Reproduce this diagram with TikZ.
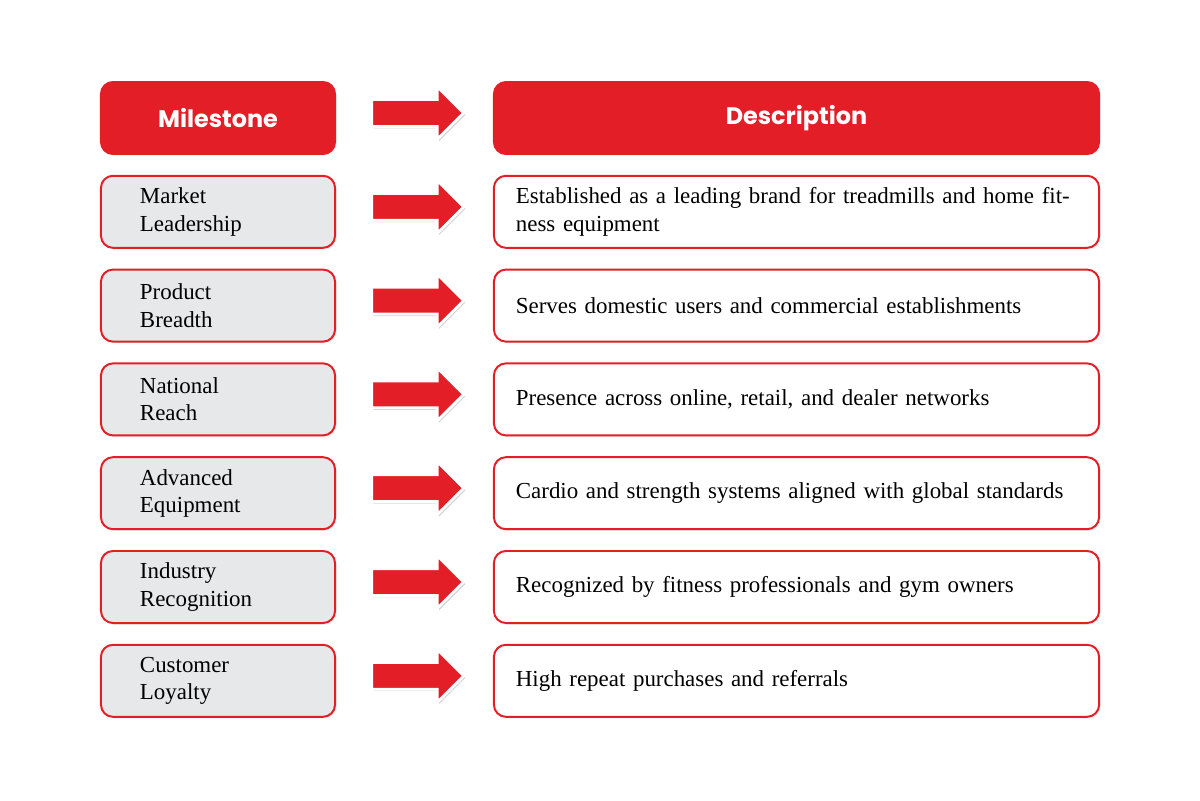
\documentclass[tikz,border=0pt]{standalone}
\usepackage{fontspec}
\setmainfont{Liberation Serif}
\newfontfamily\headfont{Poppins}
\usetikzlibrary{positioning,shapes.arrows,shadows}
\definecolor{brandred}{RGB}{228,30,38}
\definecolor{boxgrey}{RGB}{231,232,233}

\begin{document}
\begin{tikzpicture}[x=0.025cm,y=-0.025cm,node distance=0.15cm]
\tikzstyle{box} = [draw=brandred,line width=1.4pt,rounded corners=0.3cm,minimum height=1.8cm,
  align=left,font=\fontsize{16.3}{19.5}\selectfont,drop shadow={opacity=0.15,shadow xshift=0.04cm,shadow yshift=-0.04cm}]
\tikzstyle{mile} = [box,fill=boxgrey,text width=3.9cm,inner xsep=0.975cm]
\tikzstyle{desc} = [box,fill=white,text width=14.025cm,inner xsep=0.55cm]
\tikzstyle{head} = [box,fill=brandred,text=white,align=center,font=\headfont\bfseries\fontsize{17}{19}\selectfont]
\tikzstyle{pointer} = [single arrow,fill=brandred,draw=white,line width=2pt,minimum height=2.3cm,
  minimum width=1.25cm,inner sep=0.3cm,single arrow head extend=0.325cm,
  drop shadow={opacity=0.35,shadow xshift=0.04cm,shadow yshift=-0.05cm}]
    \useasboundingbox (0,0) rectangle (1200,800);
    \node[head,minimum width=5.85cm] (mhead) at (218,118) {Milestone};
    \node[head,minimum width=15.125cm] (dhead) at (796.5,118) {Description};
    \node[pointer] (ahead) at (411,113) {};

    \foreach \i/\m/\d in {1/{Market\\Leadership}/{Established as a leading brand for treadmills and home fit-ness equipment},
        2/{Product\\Breadth}/{Serves domestic users and commercial establishments},
        3/{National\\Reach}/{Presence across online, retail, and dealer networks},
        4/{Advanced\\Equipment}/{Cardio and strength systems aligned with global standards},
        5/{Industry\\Recognition}/{Recognized by fitness professionals and gym owners},
        6/{Customer\\Loyalty}/{High repeat purchases and referrals}} {
      \node[mile] (m\i) at (218,118+93.8*\i) {\m};
      \node[desc] (d\i) at (796.5,118+93.8*\i) {\d};
      \node[pointer] (a\i) at (411,113+93.8*\i) {};
    }
\end{tikzpicture}
\end{document}
